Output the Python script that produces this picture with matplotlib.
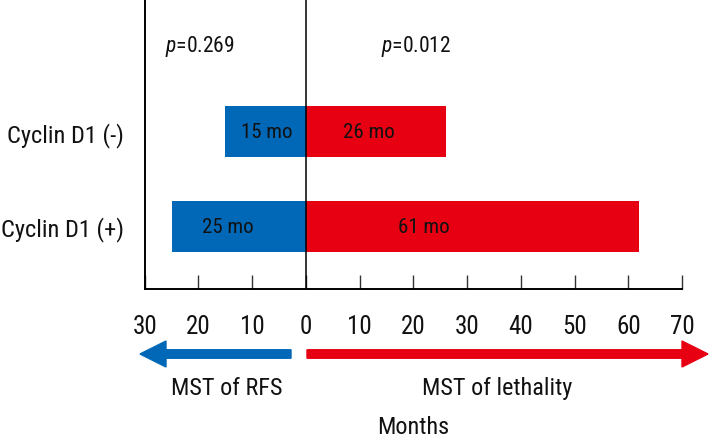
import matplotlib
matplotlib.use("Agg")
import matplotlib.pyplot as plt
from matplotlib.patches import FancyArrow

plt.rcParams['font.family'] = ['Roboto Condensed', 'DejaVu Sans']
plt.rcParams['mathtext.fontset'] = 'custom'
plt.rcParams['mathtext.it'] = 'Roboto Condensed:italic'

categories = ["Cyclin D1 (+)", "Cyclin D1 (-)"]
rfs_months = [25, 15]          # drawn to the left
lethality_months = [62, 26]    # drawn to the right
rfs_labels = ["25 mo", "15 mo"]
leth_labels = ["61 mo", "26 mo"]
xticks = [-30, -20, -10, 0, 10, 20, 30, 40, 50, 60, 70]
xtick_labels = [str(abs(t)) for t in xticks]
p_values = ["0.269", "0.012"]

blue = "#0068B7"
red = "#E60012"
txt = "#111111"

fig = plt.figure(figsize=(7.09, 4.39), dpi=100)
ax = fig.add_axes([0.204, 0.339, 0.758, 0.661])

ypos = list(range(len(categories)))
ax.barh(ypos, [-v for v in rfs_months], height=0.54, color=blue, zorder=2)
ax.barh(ypos, lethality_months, height=0.54, color=red, zorder=2)
ax.axvline(0, color="black", lw=1.1, zorder=3)

ax.set_xlim(-30, 70)
ax.set_ylim(-0.667, 2.402)
ax.set_xticks(xticks)
ax.set_xticklabels(xtick_labels, fontsize=18, color=txt)
ax.tick_params(axis='x', direction='in', length=10, width=1, pad=18, color='#333333')
ax.set_yticks(ypos)
ax.set_yticklabels(categories, fontsize=17.6, color=txt)
ax.tick_params(axis='y', length=0, pad=15)

for s in ["top", "right"]:
    ax.spines[s].set_visible(False)
ax.spines["left"].set_linewidth(1.4)
ax.spines["bottom"].set_linewidth(1.4)

label_x_rfs = [-14.6, -7.3]
label_x_leth = [22, 11.8]
for i in ypos:
    ax.text(label_x_rfs[i], i, rfs_labels[i], ha='center', va='center', fontsize=15, color=txt, zorder=4)
    ax.text(label_x_leth[i], i, leth_labels[i], ha='center', va='center', fontsize=15, color=txt, zorder=4)

ax.text(-26.2, 1.905, r"$\it{p}$" + "=" + p_values[0], ha='left', va='center', fontsize=15.5, color=txt)
ax.text(14.0, 1.905, r"$\it{p}$" + "=" + p_values[1], ha='left', va='center', fontsize=15.5, color=txt)

# arrows in figure inches (y from bottom)
tr = fig.dpi_scale_trans
ya = (439 - 355) / 100
fig.add_artist(FancyArrow(2.91, ya, 1.40 - 2.91, 0, width=0.085, head_width=0.26, head_length=0.26,
                          length_includes_head=True, color=blue, transform=tr))
fig.add_artist(FancyArrow(3.07, ya, 7.08 - 3.07, 0, width=0.085, head_width=0.26, head_length=0.26,
                          length_includes_head=True, color=red, transform=tr))

fig.text(226.7 / 709, 1 - 389 / 439, "MST of RFS", ha='center', va='center', fontsize=17.5, color=txt)
fig.text(497.5 / 709, 1 - 389 / 439, "MST of lethality", ha='center', va='center', fontsize=17.5, color=txt)
fig.text(413 / 709, 1 - 428 / 439, "Months", ha='center', va='center', fontsize=17.5, color=txt)

fig.savefig("out.png", dpi=100)
